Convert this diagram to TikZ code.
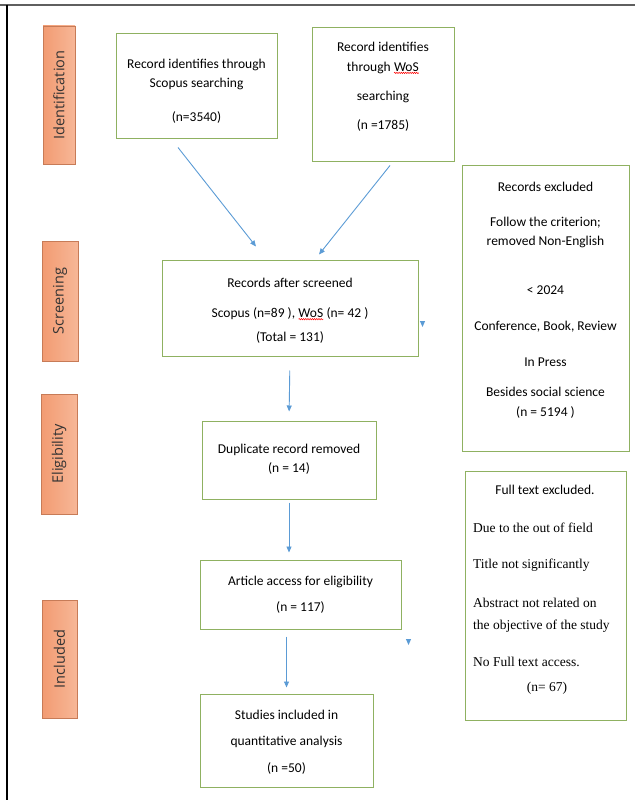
\documentclass[tikz,border=0pt]{standalone}
\usepackage{fontspec}
\setmainfont{Carlito}
\newfontfamily\reasonfont{Liberation Serif}
\newfontfamily\phasefont{Open Sans}
\usetikzlibrary{arrows.meta,positioning,decorations.pathmorphing}
\definecolor{prBorder}{HTML}{8FB161}
\definecolor{prFlow}{HTML}{5B9BD5}
\definecolor{prPhaseA}{HTML}{F29B72}
\definecolor{prPhaseB}{HTML}{F7B797}
\definecolor{prPhaseLine}{HTML}{C77B57}
\definecolor{prFrame}{HTML}{5F5F5F}
\tikzset{
    stagebox/.style={draw=prBorder, fill=white, line width=1pt, inner sep=0pt},
    boxtext/.style={align=center, inner sep=0pt, font=\fontsize{13.5}{19.5}\selectfont},
    reasontext/.style={align=left, inner sep=0pt, font=\reasonfont\fontsize{13.5}{22}\selectfont},
    phase/.style={draw=prPhaseLine, line width=0.6pt, left color=prPhaseA, right color=prPhaseB, inner sep=0pt, rotate=90, text=black!80, font=\phasefont\fontsize{14.5}{16}\selectfont},
    flow/.style={draw=prFlow, line width=0.9pt, -{Triangle[length=6pt,width=5pt]}}
}
% red wavy mark of the spell checker
\newcommand{\spellmark}[1]{\tikz[baseline=(w.base)]{\node[inner sep=0pt, outer sep=0pt, minimum size=0pt, draw=none, fill=none, rotate=0] (w) {#1}; \draw[red, line width=0.5pt, decorate, decoration={snake, amplitude=0.7pt, segment length=2.2pt}] ([yshift=-1.8pt]w.south west) -- ([yshift=-1.8pt]w.south east);}}

\begin{document}
\begin{tikzpicture}[x=1pt, y=-1pt]
    \useasboundingbox (0,0) rectangle (635,800);

    % Frame
    \draw[prFrame, line width=2pt] (0,5.5) -- (635,5.5);
    \draw[black, line width=1.3pt] (7,5) -- (7,800);

    % Phases
    \node[phase, minimum width=138pt, minimum height=32pt] (identification) at (59,95) {Identification};
    \node[phase, minimum width=120pt, minimum height=36pt] (screening) at (60,301) {Screening};
    \node[phase, minimum width=120pt, minimum height=36pt] (eligibility) at (59,454) {Eligibility};
    \node[phase, minimum width=118pt, minimum height=35pt] (included) at (59.5,659) {Included};

    % Identification
    \node[stagebox, minimum width=161pt, minimum height=104pt] (scopus) at (196.5,86) {};
    \node[boxtext] (scopustext) at (196.5,91) {Record identifies through\\Scopus searching\\[14pt](n=3540)};
    \node[stagebox, minimum width=142pt, minimum height=133pt] (wos) at (383,94.5) {};
    \node[boxtext] (wostext) at (383,86.5) {Record identifies\\through \spellmark{WoS}\\[10pt]searching\\[9pt](n =1785)};

    % Screening
    \node[stagebox, minimum width=256pt, minimum height=96pt] (screened) at (290,308) {};
    \node[boxtext] (screenedtext) at (290,311) {Records after screened\\[10pt]Scopus (n=89 ), \spellmark{WoS} (n= 42 )\\[5pt](Total = 131)};
    \node[stagebox, minimum width=167pt, minimum height=286pt] (recexcl) at (545.5,308) {};
    \node[boxtext] (recexcltext) at (545.5,300) {Records excluded\\[15pt]Follow the criterion;\\removed Non-English\\[29pt]{< 2024}\\[17pt]Conference, Book, Review\\[16pt]In Press\\[11pt]Besides social science\\(n = 5194 )};

    % Eligibility
    \node[stagebox, minimum width=174pt, minimum height=78pt] (dup) at (289,460) {};
    \node[boxtext] (duptext) at (289,459) {Duplicate record removed\\(n = 14)};
    \node[stagebox, minimum width=201pt, minimum height=69pt] (article) at (300.5,594.5) {};
    \node[boxtext] (articletext) at (300.5,595) {Article access for eligibility\\[6.5pt](n = 117)};
    \node[stagebox, minimum width=161pt, minimum height=249pt] (fullexcl) at (545.5,595.5) {};
    \node[boxtext] (fullhead) at (545,490) {Full text excluded.};
    \node[reasontext, anchor=west] (fullwhy) at (473,594.5) {Due to the out of field\\[14pt]Title not significantly\\[17pt]Abstract not related on\\the objective of the study\\[15pt]No Full text access.};
    \node[boxtext, font=\reasonfont\fontsize{13.5}{16}\selectfont] (fullcount) at (547,688) {(n= 67)};

    % Included
    \node[stagebox, minimum width=173pt, minimum height=93pt] (studies) at (286.5,740.5) {};
    \node[boxtext] (studiestext) at (286.5,742) {Studies included in\\[7pt]quantitative analysis\\[7pt](n =50)};

    % Connections
    \coordinate (scopusout) at ([xshift=-18.5pt, yshift=-9pt]scopus.south);
    \coordinate (scopusin) at ([xshift=-34pt, yshift=13pt]screened.north);
    \coordinate (wosout) at ([xshift=7pt, yshift=-4pt]wos.south);
    \coordinate (wosin) at ([xshift=29pt, yshift=5pt]screened.north);
    \draw[flow] (scopusout) -- (scopusin);
    \draw[flow] (wosout) -- (wosin);
    \draw[flow, shorten <=14pt, shorten >=9pt] (screened.south) -- (dup.north);
    \draw[flow, shorten <=3pt, shorten >=7pt] (dup.south) -- (dup.south |- article.north);
    \draw[flow, shorten <=7pt, shorten >=6pt] (article.south -| studies.north) -- (studies.north);

    % Loose arrow heads
    \coordinate (strayone) at ([xshift=4pt, yshift=-17pt]screened.east);
    \coordinate (straytwo) at ([xshift=7pt, yshift=-48.5pt]article.east);
    \draw[flow] (strayone) -- ++(0,2);
    \draw[flow] (straytwo) -- ++(0,2);

\end{tikzpicture}
\end{document}
